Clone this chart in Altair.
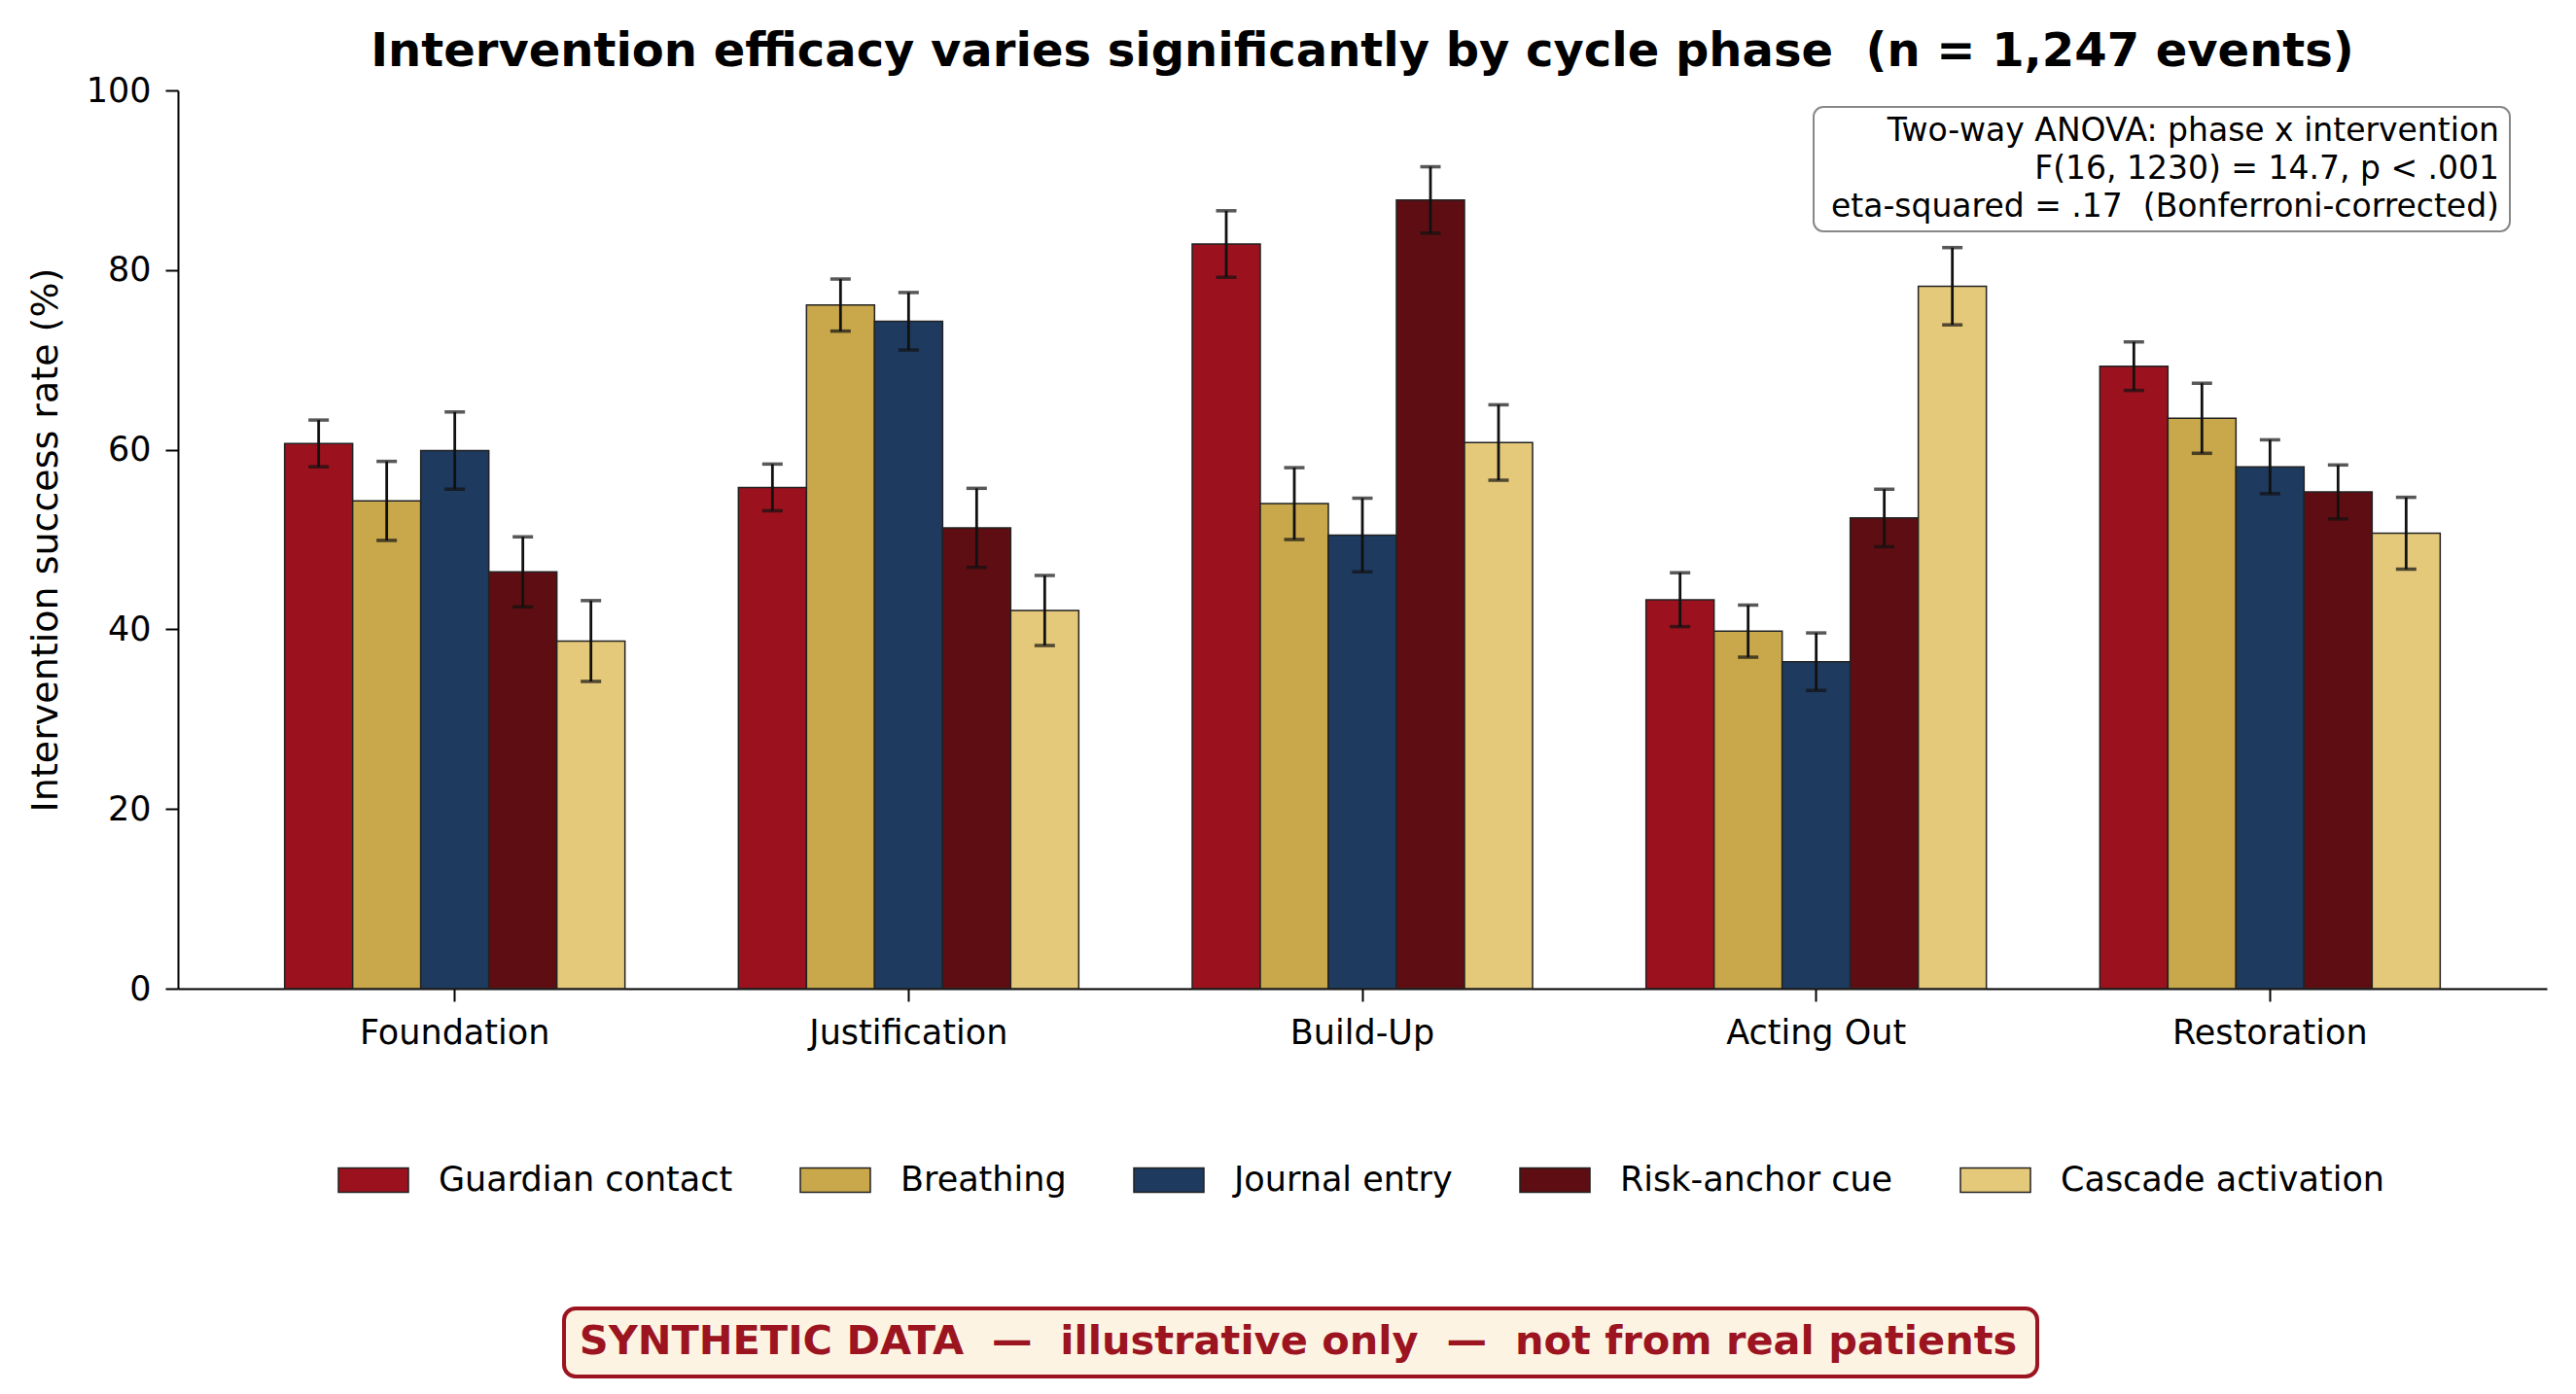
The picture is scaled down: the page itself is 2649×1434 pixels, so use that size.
import altair as alt
import pandas as pd

# Cycle phases and intervention types
phases = ["Foundation", "Justification", "Build-Up", "Acting Out", "Restoration"]
interventions = ["Guardian contact", "Breathing", "Journal entry", "Risk-anchor cue", "Cascade activation"]
colors = ["#9B121E", "#C9A84B", "#1E3A5F", "#5E0E12", "#E5C97A"]

# Success rate (%) per phase, one list per intervention
guardian_contact = [60.7, 55.8, 82.9, 43.3, 69.3]
breathing = [54.3, 76.1, 54.0, 39.8, 63.5]
journal_entry = [59.9, 74.3, 50.5, 36.4, 58.1]
risk_anchor_cue = [46.4, 51.3, 87.8, 52.4, 55.3]
cascade_activation = [38.7, 42.1, 60.8, 78.2, 50.7]

# Error bar half-widths (percentage points)
guardian_err = [2.6, 2.6, 3.7, 3.0, 2.7]
breathing_err = [4.4, 2.9, 4.0, 2.9, 3.9]
journal_err = [4.3, 3.2, 4.1, 3.2, 3.0]
risk_err = [3.9, 4.4, 3.7, 3.2, 3.0]
cascade_err = [4.5, 3.9, 4.2, 4.3, 4.0]

NBSP = "\u00a0"  # keeps double spaces from collapsing in SVG text
title_text = f"Intervention efficacy varies significantly by cycle phase {NBSP}(n = 1,247 events)"
y_title = "Intervention success rate (%)"
stats_lines = [
    "Two-way ANOVA: phase x intervention",
    "F(16, 1230) = 14.7, p < .001",
    f"eta-squared = .17 {NBSP}(Bonferroni-corrected)",
]
banner_text = f"SYNTHETIC DATA {NBSP}\u2014 {NBSP}illustrative only {NBSP}\u2014 {NBSP}not from real patients"

series = [
    (guardian_contact, guardian_err),
    (breathing, breathing_err),
    (journal_entry, journal_err),
    (risk_anchor_cue, risk_err),
    (cascade_activation, cascade_err),
]
rows = []
for name, (vals, errs) in zip(interventions, series):
    for phase, v, e in zip(phases, vals, errs):
        rows.append({"phase": phase, "intervention": name, "rate": v,
                     "lo": v - e, "hi": v + e})
df = pd.DataFrame(rows)

FONT = "DejaVu Sans"
W, H = 2436, 924

x_enc = alt.X("phase:N", sort=phases,
              scale=alt.Scale(paddingInner=0.25, paddingOuter=0.235),
              axis=alt.Axis(title=None, labelAngle=0, labelFontSize=35,
                            labelColor="#000", labelFont=FONT, labelLimit=0,
                            tickSize=13, tickWidth=2, tickColor="#000",
                            domainColor="#000", domainWidth=2, labelPadding=15))
xo_enc = alt.XOffset("intervention:N", sort=interventions,
                     scale=alt.Scale(paddingInner=0, paddingOuter=0))
y_scale = alt.Scale(domain=[0, 100], nice=False)
y_axis = alt.Axis(title=y_title, values=[0, 20, 40, 60, 80, 100],
                  grid=False, labelFontSize=35, labelColor="#000",
                  labelFont=FONT, titleFont=FONT, titleFontSize=38,
                  titleFontWeight="normal", titleColor="#000",
                  tickSize=13, tickWidth=2, tickColor="#000",
                  domainColor="#000", domainWidth=2, labelPadding=15,
                  titlePadding=22)

base = alt.Chart(df)

bars = base.mark_bar(stroke="#222", strokeWidth=1.5).encode(
    x=x_enc,
    xOffset=xo_enc,
    y=alt.Y("rate:Q", scale=y_scale, axis=y_axis),
    color=alt.Color("intervention:N", sort=interventions,
                    scale=alt.Scale(domain=interventions, range=colors),
                    legend=alt.Legend(title=None, orient="none", direction="horizontal",
                                      columns=5, legendX=164, legendY=1084,
                                      symbolType="M-1,-0.347H1V0.347H-1Z",
                                      symbolSize=5184, symbolStrokeColor="#222",
                                      symbolStrokeWidth=1.5, symbolOpacity=1,
                                      labelFontSize=35, labelFont=FONT,
                                      labelColor="#000", labelOffset=30,
                                      labelLimit=0, columnPadding=66, padding=0)),
)

err_rule = base.mark_rule(color="#111", strokeWidth=2.8).encode(
    x=x_enc, xOffset=xo_enc,
    y=alt.Y("lo:Q", scale=y_scale, axis=y_axis), y2="hi:Q",
)
cap_hi = base.mark_tick(color="#111", thickness=3.5, size=21).encode(
    x=x_enc, xOffset=xo_enc, y=alt.Y("hi:Q", scale=y_scale, axis=y_axis),
)
cap_lo = base.mark_tick(color="#111", thickness=3.5, size=21).encode(
    x=x_enc, xOffset=xo_enc, y=alt.Y("lo:Q", scale=y_scale, axis=y_axis),
)

one = pd.DataFrame({"k": [0]})

stats_box = alt.Chart(one).mark_rect(
    fill="#fff", stroke="#888", strokeWidth=2, cornerRadius=10
).encode(x=alt.value(1682), x2=alt.value(2398), y=alt.value(17), y2=alt.value(145))

stats_text = alt.Chart(one).mark_text(
    text=stats_lines, align="right", baseline="top", fontSize=33, font=FONT,
    color="#000", lineHeight=39
).encode(x=alt.value(2387), y=alt.value(26))

banner_box = alt.Chart(one).mark_rect(
    fill="#FDF3E3", stroke="#9B141F", strokeWidth=4, cornerRadius=12
).encode(x=alt.value(397), x2=alt.value(1912), y=alt.value(1253), y2=alt.value(1323))

banner = alt.Chart(one).mark_text(
    text=banner_text, align="center", baseline="middle", fontSize=41.5,
    fontWeight="bold", font=FONT, color="#9B141F"
).encode(x=alt.value(1152), y=alt.value(1288))

chart = alt.layer(
    bars, err_rule, cap_hi, cap_lo, stats_box, stats_text, banner_box, banner
).properties(
    width=W, height=H,
    title=alt.Title(title_text, fontSize=48, fontWeight="bold", font=FONT,
                    color="#000", anchor="middle", offset=-2),
    autosize=alt.AutoSizeParams(type="none"),
    padding={"left": 183, "top": 93, "right": 30, "bottom": 417},
).configure(background="#ffffff").configure_view(stroke=None)

chart.save("out.html", embed_options={"renderer": "svg", "actions": False})
